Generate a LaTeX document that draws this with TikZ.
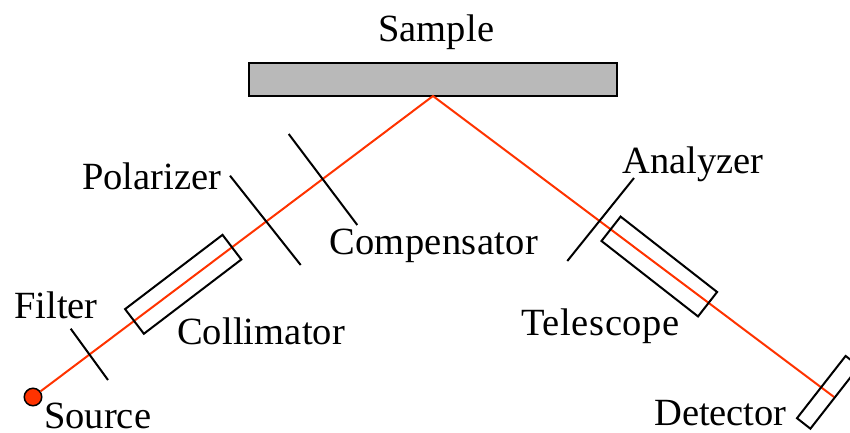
\documentclass[tikz,border=0pt]{standalone}
\usepackage{fontspec}
\setmainfont{Liberation Serif}
\definecolor{beamred}{RGB}{255,51,0}
\tikzset{
	label text/.style={anchor=base west, inner sep=0pt, font=\fontsize{38.5}{42}\selectfont},
	optic/.style={draw, line width=2pt, inner sep=0pt, minimum width=#1},
	optic/.default=122.5pt,
	plate/.style={draw, line width=2pt},
	beam/.style={draw=beamred, line width=2pt},
}

\begin{document}
\begin{tikzpicture}[x=1pt, y=-1pt]
	\useasboundingbox (0,0) rectangle (850,432);

	\coordinate (apex) at (433,96);
	\coordinate (beam end) at (834,397);
	\coordinate (filter a) at (70.7,328.7);
	\coordinate (filter b) at (108,380);
	\coordinate (polarizer a) at (230,175.7);
	\coordinate (polarizer b) at (300.7,265);
	\coordinate (compensator a) at (288.7,134);
	\coordinate (compensator b) at (357.3,225);
	\coordinate (analyzer a) at (634,178);
	\coordinate (analyzer b) at (567.3,261);

	\node[draw, line width=2pt, fill=gray!55, minimum width=368pt, minimum height=33pt, inner sep=0pt] (sample) at (433,79) {};
	\node[circle, draw, line width=1.5pt, fill=beamred, minimum size=17.5pt, inner sep=0pt] (source) at (33,397) {};

	\path[beam] (source) -- (apex) -- (beam end);

	\node[optic, minimum height=31pt, rotate=37.3] (collimator) at (183.2,284.3) {};
	\node[optic, minimum height=31pt, rotate=-38] (telescope) at (659.3,266.5) {};
	\node[optic=79pt, minimum height=17pt, rotate=52] (detector) at (828,392.3) {};

	\draw[plate] (filter a) -- (filter b);
	\draw[plate] (polarizer a) -- (polarizer b);
	\draw[plate] (compensator a) -- (compensator b);
	\draw[plate] (analyzer a) -- (analyzer b);

	\node[label text] (sample label) at (378,41) {\addfontfeature{LetterSpace=0.3}Sample};
	\node[label text] (polarizer label) at (82,189) {Polarizer};
	\node[label text] (compensator label) at (329,254) {\addfontfeature{LetterSpace=1}Compensator};
	\node[label text] (analyzer label) at (622,173) {Analyzer};
	\node[label text] (filter label) at (14,318) {Filter};
	\node[label text] (collimator label) at (177,344) {\addfontfeature{LetterSpace=0.3}Collimator};
	\node[label text] (source label) at (44,428) {Source};
	\node[label text] (telescope label) at (521,335) {\addfontfeature{LetterSpace=1.7}Telescope};
	\node[label text] (detector label) at (654,425) {Detector};
\end{tikzpicture}
\end{document}
